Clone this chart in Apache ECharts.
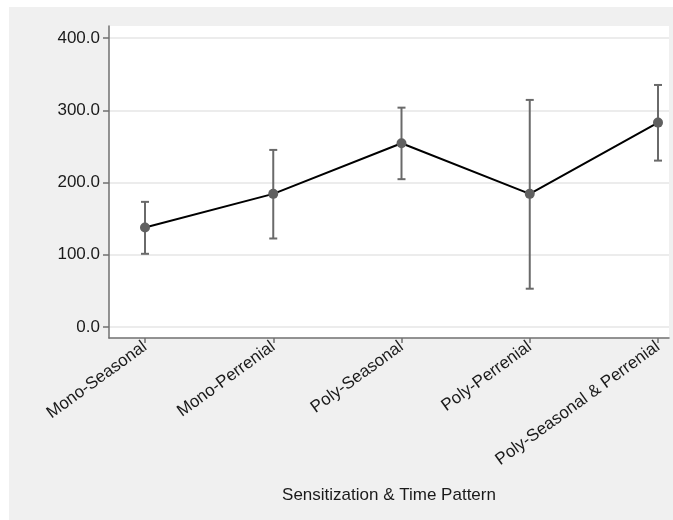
<!DOCTYPE html>
<html>
<head>
<meta charset="utf-8">
<script src="https://cdn.jsdelivr.net/npm/echarts@6/dist/echarts.min.js"></script>
<style>
html,body{margin:0;padding:0;background:#fff;}
#chart{width:673px;height:520px;}
</style>
</head>
<body>
<div id="chart"></div>
<script>
var categories = ['Mono-Seasonal', 'Mono-Perrenial', 'Poly-Seasonal', 'Poly-Perrenial', 'Poly-Seasonal & Perrenial'];
var means = [137.7, 184.3, 254.4, 184.3, 282.9];
var lower = [101.3, 122.5, 204.6, 53.0, 230.3];
var upper = [173.2, 245.1, 303.6, 314.3, 335.0];
var yMin = 0, yMax = 400, yStep = 100;
var xTitle = 'Sensitization & Time Pattern';

var FONT = '"Liberation Sans", Arial, sans-serif';
var chart = echarts.init(document.getElementById('chart'), null, {renderer: 'canvas'});

var errData = categories.map(function (c, i) { return [i, lower[i], upper[i]]; });

var option = {
  backgroundColor: '#ffffff',
  animation: false,
  graphic: [{
    type: 'rect', left: 9, top: 7, z: -10,
    shape: {width: 664, height: 513},
    style: {fill: '#f0f0f0'}
  }],
  grid: [
    {left: 109, right: 4, top: 26, bottom: 182, show: true, backgroundColor: '#ffffff', borderWidth: 0},
    {left: 109, right: 4, top: 38, bottom: 193},
    {left: 145, right: 15, top: 38, bottom: 193},
    {left: 145, right: 15, top: 26, bottom: 182}
  ],
  xAxis: [
    {gridIndex: 0, type: 'value', min: 0, max: 1,
      axisLine: {show: true, lineStyle: {color: '#707070', width: 1.5}},
      axisTick: {show: false}, axisLabel: {show: false}, splitLine: {show: false},
      name: xTitle, nameLocation: 'middle', nameGap: 149,
      nameTextStyle: {fontFamily: FONT, fontSize: 17, color: '#1a1a1a'}},
    {gridIndex: 1, type: 'value', min: 0, max: 1, show: false},
    {gridIndex: 2, type: 'category', data: categories, boundaryGap: false, show: false},
    {gridIndex: 3, type: 'category', data: categories, boundaryGap: false,
      axisLine: {show: false},
      axisTick: {show: true, length: 5, lineStyle: {color: '#707070', width: 1.5}},
      axisLabel: {rotate: 36, margin: 7, fontFamily: FONT, fontSize: 17, color: '#1a1a1a', interval: 0},
      splitLine: {show: false}}
  ],
  yAxis: [
    {gridIndex: 0, type: 'value', min: 0, max: 1,
      axisLine: {show: true, lineStyle: {color: '#707070', width: 1.5}},
      axisTick: {show: false}, axisLabel: {show: false}, splitLine: {show: false}},
    {gridIndex: 1, type: 'value', min: yMin, max: yMax, interval: yStep,
      axisLine: {show: false},
      axisTick: {show: true, length: 6, lineStyle: {color: '#707070', width: 1.5}},
      axisLabel: {margin: 9, fontFamily: FONT, fontSize: 17, color: '#1a1a1a',
        formatter: function (v) { return v.toFixed(1); }},
      splitLine: {show: true, lineStyle: {color: '#e6e6e6', width: 1.5}}},
    {gridIndex: 2, type: 'value', min: yMin, max: yMax, show: false},
    {gridIndex: 3, type: 'value', min: 0, max: 1, show: false}
  ],
  series: [
    {
      type: 'custom', xAxisIndex: 2, yAxisIndex: 2, z: 2,
      data: errData,
      renderItem: function (params, api) {
        var x = api.value(0);
        var lo = api.coord([x, api.value(1)]);
        var hi = api.coord([x, api.value(2)]);
        var w = 4;
        var st = {stroke: '#6a6a6a', lineWidth: 2};
        return {type: 'group', children: [
          {type: 'line', shape: {x1: lo[0], y1: lo[1], x2: hi[0], y2: hi[1]}, style: st},
          {type: 'line', shape: {x1: lo[0] - w, y1: lo[1], x2: lo[0] + w, y2: lo[1]}, style: st},
          {type: 'line', shape: {x1: hi[0] - w, y1: hi[1], x2: hi[0] + w, y2: hi[1]}, style: st}
        ]};
      }
    },
    {
      type: 'line', xAxisIndex: 2, yAxisIndex: 2, z: 3,
      data: means,
      symbol: 'circle', symbolSize: 10,
      lineStyle: {color: '#000000', width: 2},
      itemStyle: {color: '#606060', borderWidth: 0}
    }
  ]
};
chart.setOption(option);
</script>
</body>
</html>
